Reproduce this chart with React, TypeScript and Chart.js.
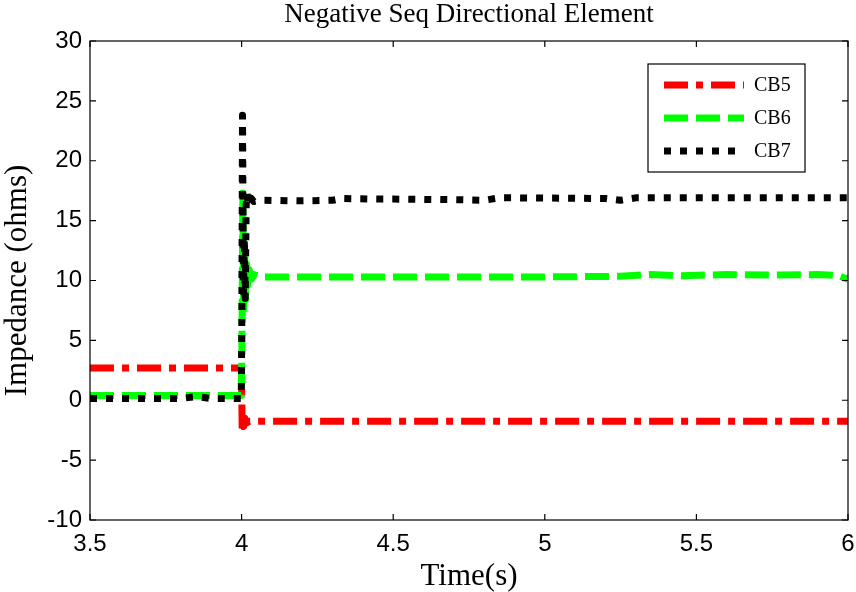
import { useEffect, useRef } from 'react';
import { Chart, registerables } from 'chart.js';

Chart.register(...registerables);

// ---- data ----
const xTicks = [3.5, 4, 4.5, 5, 5.5, 6];
const xTickLabels = ['3.5', '4', '4.5', '5', '5.5', '6'];
const yTicks = [-10, -5, 0, 5, 10, 15, 20, 25, 30];
const yTickLabels = ['-10', '-5', '0', '5', '10', '15', '20', '25', '30'];

const cb5T = [3.5, 3.9995, 4.0005, 4.002, 4.004, 4.007, 4.011, 4.016, 4.025, 6.0];
const cb5V = [2.7, 2.7, 0.5, -2.6, -1.3, -2.2, -1.5, -1.9, -1.75, -1.75];

const cb6T = [3.5, 3.999, 4.001, 4.004, 4.007, 4.01, 4.013, 4.016, 4.02, 4.025, 4.032, 4.04, 4.06, 4.5, 5.0, 5.25, 5.35, 5.45, 5.6, 5.75, 5.9, 5.97, 6.0];
const cb6V = [0.4, 0.4, 4.0, 17.3, 7.6, 13.2, 8.4, 11.8, 9.6, 10.9, 10.1, 10.5, 10.3, 10.3, 10.3, 10.35, 10.5, 10.4, 10.5, 10.45, 10.5, 10.4, 10.1];

const cb7T = [3.5, 3.8, 3.85, 3.9, 3.999, 4.001, 4.003, 4.006, 4.009, 4.012, 4.015, 4.018, 4.022, 4.03, 4.04, 4.06, 4.2, 4.3, 4.33, 4.45, 4.5, 4.7, 4.8, 4.85, 4.9, 5.2, 5.25, 5.3, 6.0];
const cb7V = [0.15, 0.15, 0.3, 0.15, 0.15, 8, 23.8, 9, 13.5, 8.5, 16.2, 17.3, 16.4, 16.9, 16.6, 16.7, 16.65, 16.7, 16.85, 16.8, 16.8, 16.75, 16.7, 16.9, 16.9, 16.85, 16.7, 16.9, 16.9];

const seriesLabels = ['CB5', 'CB6', 'CB7'];

const toPts = (t: number[], v: number[]) => t.map((x, i) => ({ x, y: v[i] }));

const SERIF = '"Liberation Serif", "Times New Roman", serif';
const SANS = '"Liberation Sans", Arial, sans-serif';

const framePlugin = {
  id: 'frame',
  afterDraw(chart: any) {
    const { ctx, chartArea, scales } = chart;
    const { left, right, top, bottom } = chartArea;
    ctx.save();
    ctx.strokeStyle = '#000';
    ctx.lineWidth = 1.2;
    ctx.strokeRect(left, top, right - left, bottom - top);
    const tl = 6;
    ctx.beginPath();
    xTicks.forEach((v) => {
      const p = scales.x.getPixelForValue(v);
      ctx.moveTo(p, bottom);
      ctx.lineTo(p, bottom - tl);
      ctx.moveTo(p, top);
      ctx.lineTo(p, top + tl);
    });
    yTicks.forEach((v) => {
      const p = scales.y.getPixelForValue(v);
      ctx.moveTo(left, p);
      ctx.lineTo(left + tl, p);
      ctx.moveTo(right, p);
      ctx.lineTo(right - tl, p);
    });
    ctx.stroke();

    // legend
    const bx = 648, by = 64, bw = 157, bh = 108;
    ctx.fillStyle = '#fff';
    ctx.fillRect(bx, by, bw, bh);
    ctx.lineWidth = 1.2;
    ctx.strokeStyle = '#000';
    ctx.strokeRect(bx, by, bw, bh);
    const rows = [85, 118, 151];
    chart.data.datasets.forEach((ds: any, i: number) => {
      const y = rows[i];
      ctx.save();
      ctx.strokeStyle = ds.borderColor;
      ctx.lineWidth = ds.borderWidth;
      ctx.lineCap = 'butt';
      ctx.setLineDash(ds.borderDash || []);
      ctx.beginPath();
      ctx.moveTo(664, y);
      ctx.lineTo(744, y);
      ctx.stroke();
      ctx.restore();
      ctx.fillStyle = '#000';
      ctx.font = `20px ${SERIF}`;
      ctx.textBaseline = 'middle';
      ctx.textAlign = 'left';
      ctx.fillText(ds.label, 754, y + 1);
    });
    ctx.restore();
  },
};

export default function App() {
  const ref = useRef<HTMLCanvasElement>(null);
  useEffect(() => {
    const chart = new Chart(ref.current as HTMLCanvasElement, {
      type: 'line',
      data: {
        datasets: [
          {
            label: seriesLabels[0],
            data: toPts(cb5T, cb5V),
            borderColor: '#ff0000',
            borderWidth: 7,
            borderDash: [24, 8, 7, 8],
            order: 3,
          },
          {
            label: seriesLabels[1],
            data: toPts(cb6T, cb6V),
            borderColor: '#00ff00',
            borderWidth: 7,
            borderDash: [24, 8],
            order: 2,
          },
          {
            label: seriesLabels[2],
            data: toPts(cb7T, cb7V),
            borderColor: '#000000',
            borderWidth: 7,
            borderDash: [7, 9],
            order: 1,
          },
        ],
      } as any,
      options: {
        responsive: false,
        animation: false,
        devicePixelRatio: 1,
        layout: { padding: { left: 0, right: 8, top: 0, bottom: 0 } },
        elements: {
          point: { radius: 0 },
          line: { tension: 0, borderCapStyle: 'butt', borderJoinStyle: 'round', fill: false },
        },
        plugins: {
          legend: { display: false },
          tooltip: { enabled: false },
          title: {
            display: true,
            fullSize: false,
            text: 'Negative Seq Directional Element',
            color: '#000',
            font: { family: SERIF, size: 27, weight: 'normal', lineHeight: 1.0 },
            padding: { top: 1, bottom: 13 },
          },
        },
        scales: {
          x: {
            type: 'linear',
            min: 3.5,
            max: 6,
            afterFit: (s: any) => { s.height = 72; s.paddingLeft = 0; s.paddingRight = 0; },
            afterBuildTicks: (s: any) => { s.ticks = xTicks.map((v) => ({ value: v })); },
            grid: { display: false, drawTicks: false },
            border: { display: false },
            ticks: {
              color: '#000',
              padding: 10,
              autoSkip: false,
              maxRotation: 0,
              font: { family: SANS, size: 24 },
              callback: (v: any) => xTickLabels[xTicks.indexOf(Number(v))] ?? '',
            },
            title: {
              display: true,
              text: 'Time(s)',
              color: '#000',
              font: { family: SERIF, size: 31, lineHeight: 1.0 },
              padding: { top: 0, bottom: 0 },
            },
          },
          y: {
            type: 'linear',
            min: -10,
            max: 30,
            afterFit: (s: any) => { s.width = 90; s.paddingTop = 0; s.paddingBottom = 0; },
            afterBuildTicks: (s: any) => { s.ticks = yTicks.map((v) => ({ value: v })); },
            grid: { display: false, drawTicks: false },
            border: { display: false },
            ticks: {
              color: '#000',
              padding: 8,
              autoSkip: false,
              font: { family: SANS, size: 24 },
              callback: (v: any) => yTickLabels[yTicks.indexOf(Number(v))] ?? '',
            },
            title: {
              display: true,
              text: 'Impedance (ohms)',
              color: '#000',
              font: { family: SERIF, size: 31, lineHeight: 1.0 },
              padding: { top: 2, bottom: 2 },
            },
          },
        },
      } as any,
      plugins: [framePlugin],
    });
    return () => chart.destroy();
  }, []);
  return (
    <div style={{ position: 'absolute', left: 0, top: 0, width: 856, height: 592, background: '#fff' }}>
      <canvas ref={ref} width={856} height={592} style={{ display: 'block' }} />
    </div>
  );
}
